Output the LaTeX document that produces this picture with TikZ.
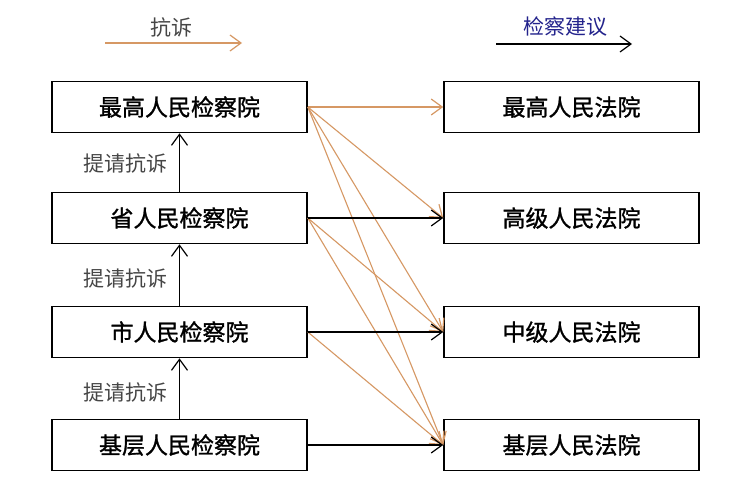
\documentclass[tikz,border=0pt]{standalone}
\usepackage{fontspec}
\newfontfamily\cjk{Noto Sans CJK SC}
\newfontfamily\cjkb[FakeBold=1.2]{Noto Sans CJK SC}
\usetikzlibrary{arrows.meta}
\definecolor{orng}{RGB}{214,152,100}
\definecolor{dblue}{RGB}{35,35,140}
\definecolor{lgrey}{RGB}{70,70,70}
\tikzset{
  box/.style={draw=black, line width=1.6pt, minimum width=255pt, minimum height=51pt, inner sep=0pt, font=\cjkb\fontsize{23}{26}\selectfont},
  lbl/.style={font=\cjk\fontsize{21}{24}\selectfont, text=lgrey, inner sep=0pt},
  barb/.style={-{Straight Barb[length=11pt,width=16pt,line width=1.2pt]}},
  blk/.style={barb, draw=black, line width=1.4pt},
  org/.style={barb, draw=orng, line width=1.1pt},
}
\begin{document}
\begin{tikzpicture}[x=1pt,y=-1pt]
\useasboundingbox (0,0) rectangle (751,500);
\fill[white] (0,0) rectangle (751,500);
% legend
\node[lbl] (lgA) at (171,28) {抗诉};
\coordinate (la1) at (105,43);
\coordinate (la2) at (242,43);
\draw[org] (la1) -- (la2);
\node[lbl, text=dblue] (lgB) at (565,27) {检察建议};
\coordinate (lb1) at (496,44);
\coordinate (lb2) at (632,44);
\draw[blk] (lb1) -- (lb2);
% left boxes
\node[box] (P1) at (179.5,107) {最高人民检察院};
\node[box] (P2) at (179.5,218) {省人民检察院};
\node[box] (P3) at (179.5,332) {市人民检察院};
\node[box] (P4) at (179.5,445) {基层人民检察院};
% right boxes
\node[box] (C1) at (571.5,107) {最高人民法院};
\node[box] (C2) at (571.5,218) {高级人民法院};
\node[box] (C3) at (571.5,332) {中级人民法院};
\node[box] (C4) at (571.5,445) {基层人民法院};
% orange protest lines
\draw[org] (P1.east) -- (C1.west);
\draw[org] (P1.east) -- (C2.west);
\draw[org] (P1.east) -- (C3.west);
\draw[org] (P1.east) -- (C4.west);
\draw[org] (P2.east) -- (C3.west);
\draw[org] (P2.east) -- (C4.west);
\draw[org] (P3.east) -- (C4.west);
% black suggestion lines
\draw[blk] (P2.east) -- (C2.west);
\draw[blk] (P3.east) -- (C3.west);
\draw[blk] (P4.east) -- (C4.west);
% vertical arrows
\draw[blk] (P2.north) -- (P1.south);
\draw[blk] (P3.north) -- (P2.south);
\draw[blk] (P4.north) -- (P3.south);
\node[lbl] (L1) at (125,163) {提请抗诉};
\node[lbl] (L2) at (125,278) {提请抗诉};
\node[lbl] (L3) at (125,392) {提请抗诉};
\end{tikzpicture}
\end{document}
